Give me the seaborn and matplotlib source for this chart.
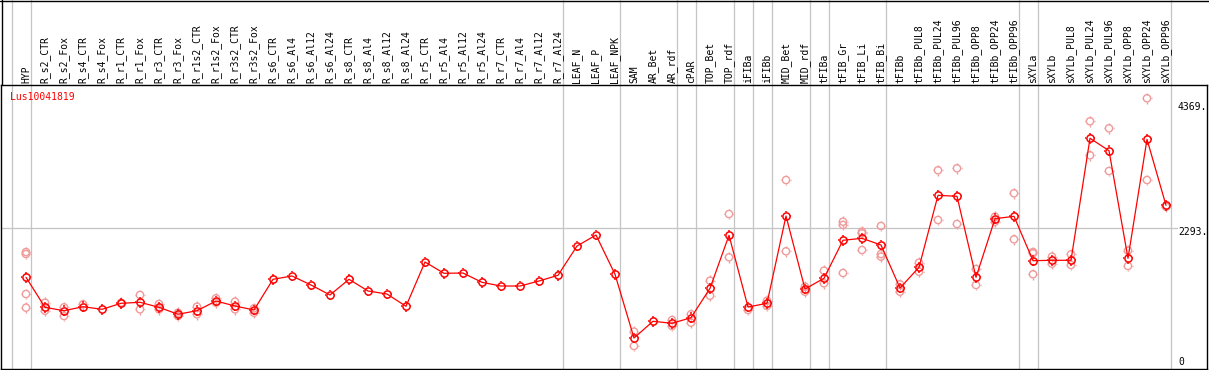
import numpy as np
import pandas as pd
import matplotlib
matplotlib.use("Agg")
import matplotlib.pyplot as plt
from matplotlib.path import Path
from matplotlib.lines import Line2D
from matplotlib.transforms import ScaledTranslation
import seaborn as sns

# ---------------- data ----------------
categories = [
    "HYP", "R_s2_CTR", "R_s2_Fox", "R_s4_CTR", "R_s4_Fox", "R_r1_CTR", "R_r1_Fox",
    "R_r3_CTR", "R_r3_Fox", "R_r1s2_CTR", "R_r1s2_Fox", "R_r3s2_CTR", "R_r3s2_Fox",
    "R_s6_CTR", "R_s6_Al4", "R_s6_Al12", "R_s6_Al24", "R_s8_CTR", "R_s8_Al4",
    "R_s8_Al12", "R_s8_Al24", "R_r5_CTR", "R_r5_Al4", "R_r5_Al12", "R_r5_Al24",
    "R_r7_CTR", "R_r7_Al4", "R_r7_Al12", "R_r7_Al24", "LEAF_N", "LEAF_P", "LEAF_NPK",
    "SAM", "AR_Bet", "AR_rdf", "cPAR", "TOP_Bet", "TOP_rdf", "iFIBa", "iFIBb",
    "MID_Bet", "MID_rdf", "tFIBa", "tFIB_Gr", "tFIB_Li", "tFIB_Bi", "tFIBb",
    "tFIBb_PUL8", "tFIBb_PUL24", "tFIBb_PUL96", "tFIBb_OPP8", "tFIBb_OPP24", "tFIBb_OPP96",
    "sXYLa", "sXYLb", "sXYLb_PUL8", "sXYLb_PUL24", "sXYLb_PUL96", "sXYLb_OPP8",
    "sXYLb_OPP24", "sXYLb_OPP96",
]

mean_values = [
    1478, 982, 926, 992, 949, 1048, 1065, 982, 867, 926, 1086, 1004, 938,
    1445, 1500, 1351, 1186, 1445, 1252, 1202, 999, 1731, 1544, 1549, 1395,
    1334, 1334, 1417, 1511, 1995, 2177, 1528,
    475, 751, 718, 810, 1296, 2172, 987, 1048,
    2491, 1285, 1462, 2090, 2123, 2012, 1301,
    1643, 2833, 2817, 1478, 2447, 2486,
    1753, 1759, 1759, 3776, 3571, 1792, 3759, 2668,
]

replicate_category = [
    "HYP", "HYP", "HYP", "HYP",
    "R_s2_CTR", "R_s2_CTR", "R_s2_Fox", "R_s2_Fox", "R_s4_CTR", "R_r1_CTR",
    "R_r1_Fox", "R_r1_Fox", "R_r3_CTR", "R_r3_CTR", "R_r3_Fox", "R_r3_Fox",
    "R_r1s2_CTR", "R_r1s2_CTR", "R_r1s2_Fox", "R_r1s2_Fox", "R_r3s2_CTR", "R_r3s2_CTR",
    "R_r3s2_Fox", "R_r3s2_Fox",
    "SAM", "SAM", "AR_rdf", "AR_rdf", "cPAR", "cPAR", "TOP_Bet", "TOP_Bet",
    "TOP_rdf", "TOP_rdf", "iFIBa", "iFIBb", "iFIBb", "MID_Bet", "MID_Bet",
    "MID_rdf", "MID_rdf", "tFIBa", "tFIBa", "tFIB_Gr", "tFIB_Gr", "tFIB_Gr",
    "tFIB_Li", "tFIB_Li", "tFIB_Li", "tFIB_Bi", "tFIB_Bi", "tFIB_Bi",
    "tFIBb", "tFIBb", "tFIBb_PUL8", "tFIBb_PUL8", "tFIBb_PUL24", "tFIBb_PUL24",
    "tFIBb_PUL96", "tFIBb_PUL96", "tFIBb_OPP8", "tFIBb_OPP8", "tFIBb_OPP24", "tFIBb_OPP24",
    "tFIBb_OPP96", "tFIBb_OPP96", "sXYLa", "sXYLa", "sXYLa", "sXYLb", "sXYLb",
    "sXYLb_PUL8", "sXYLb_PUL8", "sXYLb_PUL24", "sXYLb_PUL24", "sXYLb_PUL96", "sXYLb_PUL96",
    "sXYLb_OPP8", "sXYLb_OPP8", "sXYLb_OPP24", "sXYLb_OPP24", "sXYLb_OPP96",
]
replicate_values = [
    1896, 1863, 1202, 976,
    1058, 926, 982, 838, 1032, 1058,
    1186, 949, 1037, 949, 893, 838,
    992, 867, 1131, 1058, 1075, 949,
    966, 893,
    579, 343, 772, 673, 867, 728, 1422, 1174,
    2524, 1809, 938, 1091, 1004, 3086, 1908,
    1323, 1240, 1587, 1379, 2397, 2343, 1549,
    2232, 2205, 1929, 2326, 1863, 1819,
    1362, 1240, 1719, 1571, 3247, 2425,
    3280, 2359, 1615, 1351, 2480, 2397,
    2867, 2106, 1896, 1875, 1528, 1819, 1703,
    1858, 1681, 4057, 3495, 3941, 3235,
    1918, 1665, 4437, 3086, 2645,
]

# grey separators sit after these categories (plus one before the first)
group_ends = ["HYP", "R_r7_Al24", "LEAF_NPK", "AR_rdf", "cPAR", "TOP_rdf", "iFIBa",
              "iFIBb", "MID_rdf", "tFIBa", "tFIB_Bi", "tFIBb_OPP96", "sXYLa", "sXYLb_OPP96"]
gene_name = "Lus10041819"
reference_value = 2293
ytick_values = [0, 2293, 4369]
ytick_labels = ["0", "2293.", "4369."]

# ---------------- layout ----------------
W, H = 1209, 370
sns.set_style("white")
plt.rcParams["font.family"] = ["DejaVu Sans Mono", "DejaVu Sans"]

fig = plt.figure(figsize=(W / 100, H / 100), dpi=100)
fig.patch.set_facecolor("white")
ax = fig.add_axes([1 / W, 1 - 369 / H, 1206 / W, 284 / H])
ax.set_facecolor("white")

pos = {c: i for i, c in enumerate(categories)}
x_mean = np.array([pos[c] for c in categories], dtype=float)
x_rep = np.array([pos[c] for c in replicate_category], dtype=float)

# tick decoration around each circle marker
tk = 1.45
tick_marks = Path([(0, 1), (0, tk), (0, -1), (0, -tk), (1, 0), (tk, 0), (-1, 0), (-tk, 0)],
                  [Path.MOVETO, Path.LINETO] * 4)
circle_pt = 5.2
tick_pt = circle_pt * tk

grey = "#c4c4c4"
pink = "#f09a9a"
red = "#ff0000"

sep_positions = [pos[categories[0]] - 1 + 0.263] + [pos[g] + 0.263 for g in group_ends]
for xs in sep_positions:
    ax.axvline(xs, ymin=0, ymax=369 / 284, color=grey, lw=0.9, clip_on=False, zorder=0)
ax.axhline(reference_value, xmin=0, xmax=1176 / 1206, color=grey, lw=0.9, zorder=0)

rep_df = pd.DataFrame({"x": x_rep, "value": replicate_values})
sns.scatterplot(data=rep_df, x="x", y="value", marker="o", s=circle_pt ** 2,
                facecolor="none", edgecolor=pink, linewidth=1.0, ax=ax, zorder=2)
sns.scatterplot(data=rep_df, x="x", y="value", marker=tick_marks, s=tick_pt ** 2,
                facecolor="none", edgecolor=pink, linewidth=1.0, ax=ax, zorder=2)

mean_df = pd.DataFrame({"x": x_mean, "value": mean_values})
sns.lineplot(data=mean_df, x="x", y="value", color=red, lw=0.9,
             marker="o", markersize=circle_pt, markerfacecolor="none",
             markeredgecolor=red, markeredgewidth=1.1, ax=ax, zorder=3)
sns.scatterplot(data=mean_df, x="x", y="value", marker=tick_marks, s=tick_pt ** 2,
                facecolor="none", edgecolor=red, linewidth=1.1, ax=ax, zorder=3)

ax.set_xlim((1 - 26) / 19, (1207 - 26) / 19)
ax.set_ylim(-37.6, 4656.6)

ax.set_xticks(x_mean)
ax.set_xticklabels(categories)
ax.xaxis.tick_top()
ax.tick_params(axis="x", length=0, pad=1.5, labelsize=7, rotation=90, colors="black")
ax.set_yticks([])
ax.set_xlabel("")
ax.set_ylabel("")
for s in ax.spines.values():
    s.set_color("black")
    s.set_linewidth(1.0)

# right-side value labels
for v, lab in zip(ytick_values, ytick_labels):
    if v == 0:
        off = ScaledTranslation(0, 5 / 100, fig.dpi_scale_trans)
    else:
        off = ScaledTranslation(0, -4.3 / 100, fig.dpi_scale_trans)
    ax.text((1178 - 1) / 1206, v, lab, transform=ax.get_yaxis_transform() + off,
            ha="left", va="center", fontsize=7, color="black")

# gene name
ax.text(9 / 1206, 1 - (97 - 85) / 284, gene_name, transform=ax.transAxes,
        ha="left", va="center", fontsize=7, color=red)

# header frame lines
fig.add_artist(Line2D([0, 1], [1 - 0.5 / H, 1 - 0.5 / H], color="black", lw=1.0))
fig.add_artist(Line2D([1.5 / W, 1.5 / W], [1, 1 - 85 / H], color="black", lw=1.0))

fig.savefig("out.png", dpi=100, facecolor="white")
